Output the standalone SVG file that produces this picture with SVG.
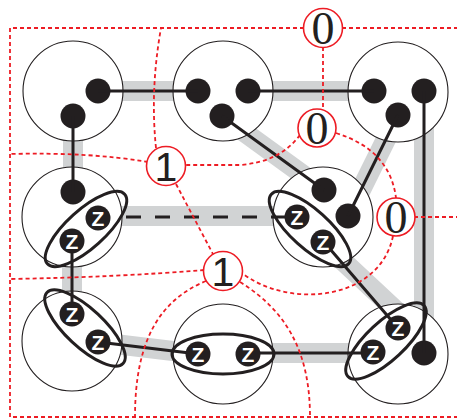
<svg xmlns="http://www.w3.org/2000/svg" width="457" height="420" viewBox="0 0 457 420">
<style>
.gray{fill:none;stroke:#d1d3d4;stroke-width:20;stroke-linecap:butt}
.big{fill:#fff;stroke:#231f20;stroke-width:1.1}
.edge{fill:none;stroke:#231f20;stroke-width:3}
.dash{fill:none;stroke:#231f20;stroke-width:3;stroke-dasharray:15 14}
.dot{fill:#231f20}
.ell{fill:none;stroke:#231f20;stroke-width:3}
.z{font-family:"Liberation Sans",Arial,sans-serif;font-size:21px;font-weight:bold;fill:#fff;text-anchor:middle}
.red{fill:none;stroke:#ed1c24;stroke-width:1.8;stroke-dasharray:4 3}
.lab{fill:#fff;stroke:#ed1c24;stroke-width:1.6}
.t0{font-family:"Liberation Serif","Times New Roman",serif;font-size:46px;fill:#231f20;text-anchor:middle}
.t1{font-family:"Liberation Sans",Arial,sans-serif;font-size:41px;fill:#231f20;text-anchor:middle}
</style>
<g id="underlay">
<path class="gray" d="M73,91H223M223,91H398M73,91V217M222,116L324,190M398,115L348,216M424,91V354M72,216H323M72,217V341M98,342L198,354M223,353H398M330,249L405,319"/>
</g>
<g id="n11"><circle class="big" cx="73" cy="91" r="50"/><circle class="dot" cx="98" cy="91" r="12.5"/><circle class="dot" cx="73" cy="116" r="12.5"/></g>
<g id="n12"><circle class="big" cx="223" cy="91" r="50"/><circle class="dot" cx="198" cy="91" r="12.5"/><circle class="dot" cx="248" cy="91" r="12.5"/><circle class="dot" cx="222" cy="116" r="12.5"/></g>
<g id="n13"><circle class="big" cx="398" cy="92" r="50"/><circle class="dot" cx="374" cy="91" r="12.5"/><circle class="dot" cx="424" cy="91" r="12.5"/><circle class="dot" cx="398" cy="115" r="12.5"/></g>
<g id="n21"><circle class="big" cx="72" cy="217" r="50"/><circle class="dot" cx="73" cy="192" r="12.5"/></g>
<g id="n22"><circle class="big" cx="323" cy="217" r="50"/><circle class="dot" cx="324" cy="190" r="12.5"/><circle class="dot" cx="348" cy="216" r="12.5"/></g>
<g id="n31"><circle class="big" cx="72" cy="341" r="50"/></g>
<g id="n32"><circle class="big" cx="223" cy="354" r="50"/></g>
<g id="n33"><circle class="big" cx="398" cy="354" r="50"/><circle class="dot" cx="424" cy="353" r="12.5"/></g>
<g id="connectors">
<path class="edge" d="M98,91H198M248,91H374M73,116V192M222,116L324,190M398,115L348,216M424,91V353M72,241V314M98,342L198,354M248,353H373M324,242L398,328"/>
<path class="dash" d="M126,217H286"/>
</g>
<g id="z-pairs">
<ellipse class="ell" cx="86" cy="229" rx="52" ry="19" transform="rotate(-42 86 229)"/>
<ellipse class="ell" cx="310" cy="229" rx="52" ry="19" transform="rotate(42 310 229)"/>
<ellipse class="ell" cx="85" cy="328" rx="52" ry="19" transform="rotate(43 85 328)"/>
<ellipse class="ell" cx="223" cy="354" rx="51" ry="20"/>
<ellipse class="ell" cx="386" cy="341" rx="52" ry="19" transform="rotate(-43 386 341)"/>
<g><circle class="dot" cx="98" cy="218" r="12.5"/><text class="z" x="98" y="225.5">Z</text></g>
<g><circle class="dot" cx="72" cy="241" r="12.5"/><text class="z" x="72" y="248.5">Z</text></g>
<g><circle class="dot" cx="297" cy="217" r="12.5"/><text class="z" x="297" y="224.5">Z</text></g>
<g><circle class="dot" cx="323" cy="242" r="12.5"/><text class="z" x="323" y="249.5">Z</text></g>
<g><circle class="dot" cx="72" cy="314" r="12.5"/><text class="z" x="72" y="321.5">Z</text></g>
<g><circle class="dot" cx="98" cy="342" r="12.5"/><text class="z" x="98" y="349.5">Z</text></g>
<g><circle class="dot" cx="198" cy="354" r="12.5"/><text class="z" x="198" y="361.5">Z</text></g>
<g><circle class="dot" cx="248" cy="354" r="12.5"/><text class="z" x="248" y="361.5">Z</text></g>
<g><circle class="dot" cx="398" cy="328" r="12.5"/><text class="z" x="398" y="335.5">Z</text></g>
<g><circle class="dot" cx="373" cy="352" r="12.5"/><text class="z" x="373" y="359.5">Z</text></g>
</g>
<g id="red-lines">
<path class="red" d="M304,28H10V417H457M342,28H457"/>
<path class="red" d="M323,47V109"/>
<path class="red" d="M300,135Q280,162 240,165H185"/>
<path class="red" d="M336,133Q390,150 396,198"/>
<path class="red" d="M414,217H457"/>
<path class="red" d="M393,236C380,300 290,310 242,273"/>
<path class="red" d="M148,162Q90,152 10,154"/>
<path class="red" d="M156,148Q150,90 161,28"/>
<path class="red" d="M176,184L214,256"/>
<path class="red" d="M204,270Q120,277 10,279"/>
<path class="red" d="M206,281C160,300 135,340 135,417"/>
<path class="red" d="M240,282C285,310 310,350 310,417"/>
</g>
<g id="label-0-top"><circle class="lab" cx="323" cy="28" r="19.5"/><text class="t0" x="323" y="44">0</text></g>
<g id="label-0-mid"><circle class="lab" cx="317" cy="128" r="19"/><text class="t0" x="317" y="144">0</text></g>
<g id="label-0-right"><circle class="lab" cx="396" cy="217" r="19"/><text class="t0" x="396" y="233">0</text></g>
<g id="label-1-upper"><circle class="lab" cx="166" cy="166" r="19.5"/><text class="t1" x="166" y="181">1</text></g>
<g id="label-1-lower"><circle class="lab" cx="223" cy="271" r="19.5"/><text class="t1" x="223" y="286">1</text></g>
</svg>
